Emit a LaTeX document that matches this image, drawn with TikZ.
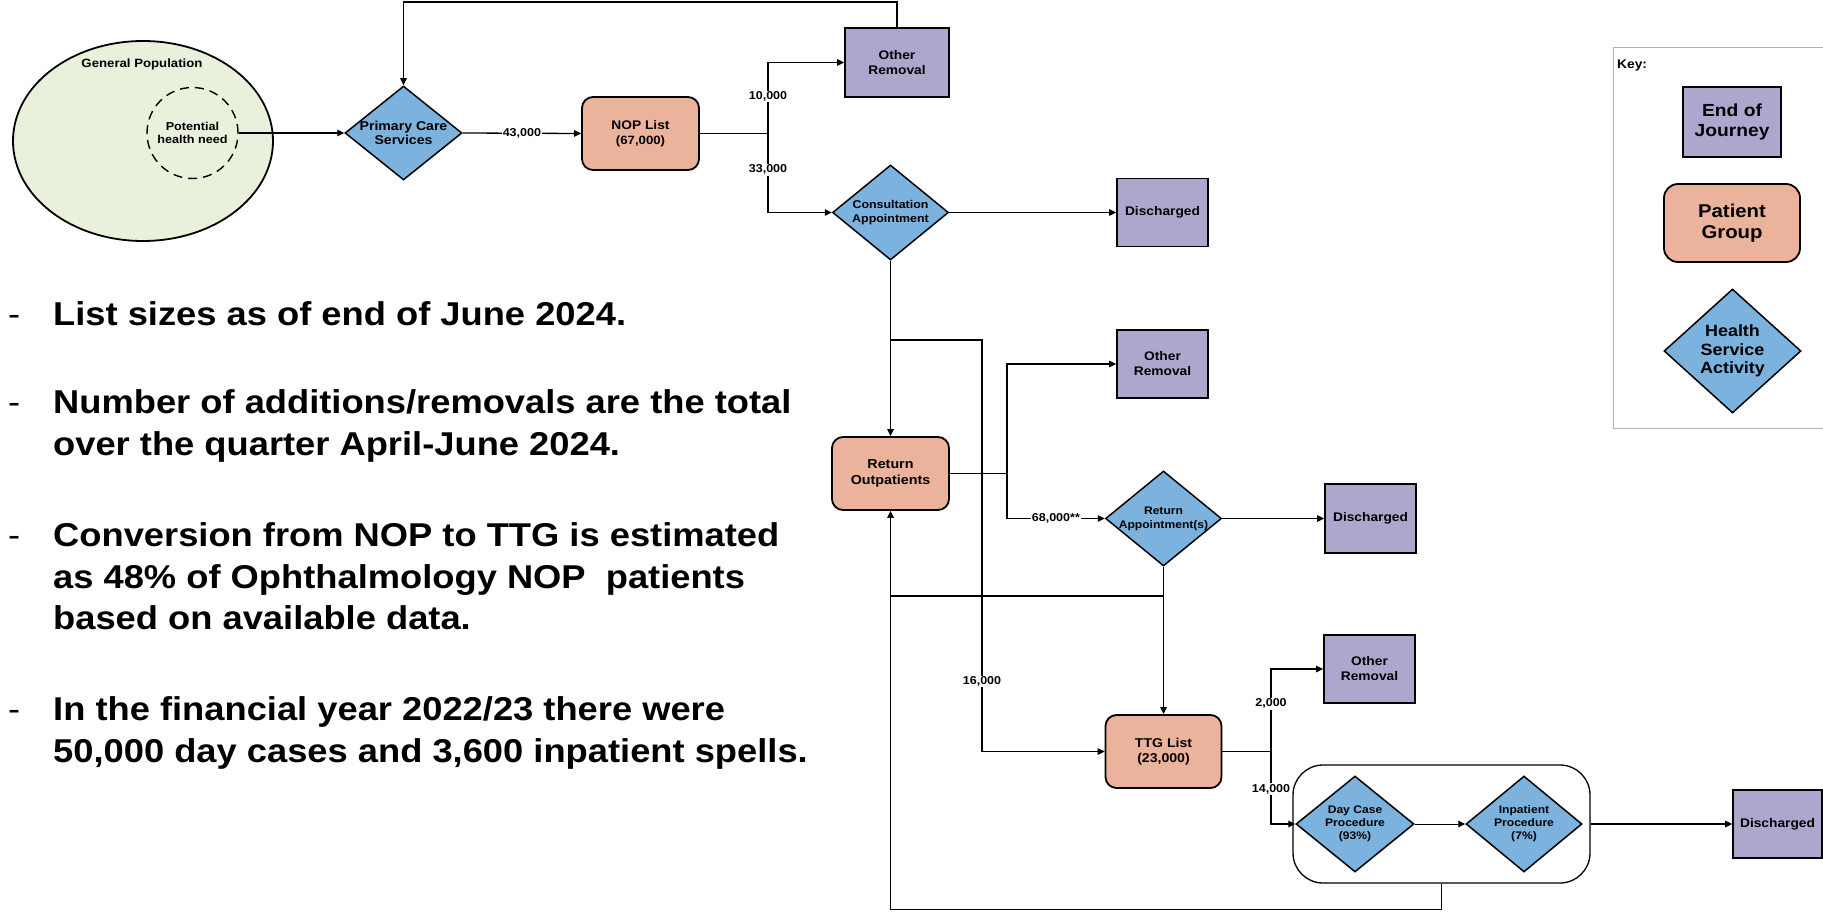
\documentclass[tikz,border=0pt]{standalone}
\usepackage{fontspec}
\setmainfont{Liberation Sans}[FakeStretch=1.1]
\usetikzlibrary{shapes.geometric,arrows.meta}
\definecolor{endc}{RGB}{173,167,206}
\definecolor{patc}{RGB}{235,178,156}
\definecolor{hsac}{RGB}{124,178,222}
\definecolor{popc}{RGB}{233,240,220}
\newcommand\mynodefont{\bfseries\fontsize{12.5pt}{15pt}\selectfont}
\newcommand\mydfont{\bfseries\fontsize{11.3pt}{13.5pt}\selectfont}
\newcommand\mylblfont{\bfseries\fontsize{11.4pt}{13pt}\selectfont}
\newcommand\mybodyfont{\bfseries\fontsize{33pt}{41.5pt}\selectfont}
\tikzset{
  ebox/.style={draw=black, line width=1.8pt, fill=endc, inner sep=0pt, align=center, font=\mynodefont},
  pbox/.style={draw=black, line width=1.8pt, fill=patc, rounded corners=11pt, inner sep=0pt, align=center, font=\mynodefont},
  dshape/.style={diamond, draw=black, line width=1.5pt, fill=hsac, inner sep=0pt},
  dtext/.style={inner sep=0pt, align=center, font=\mydfont},
  conn/.style={draw=black, line width=1.3pt},
  arr/.style={conn, -{Triangle[length=7pt,width=6.5pt]}},
  lbl/.style={fill=white, inner sep=1pt, font=\mylblfont},
  body/.style={inner sep=0pt, anchor=base west, font=\mybodyfont},
  dashmark/.style={inner sep=0pt, anchor=base west, font=\mdseries\fontsize{33pt}{41.5pt}\selectfont},
}
\begin{document}
\begin{tikzpicture}[x=1pt,y=-1pt]
\useasboundingbox (0,0) rectangle (1823,912);
\fill[white] (0,0) rectangle (1823,912);

% ---------- population ----------
\node[ellipse, draw=black, line width=1.8pt, fill=popc, minimum width=260pt, minimum height=200pt, inner sep=0pt] (pop) at (143,141) {};
\node[inner sep=0pt, font=\bfseries\fontsize{12pt}{14pt}\selectfont] (poplbl) at (142,64) {General Population};
\node[circle, draw=black, dash pattern=on 9pt off 6pt, line width=1.4pt, minimum size=91pt, inner sep=0pt, align=center, font=\bfseries\fontsize{11.5pt}{12.5pt}\selectfont] (need) at (192.5,133) {Potential\\health need};

% ---------- main nodes ----------
\node[dshape, minimum width=117pt, minimum height=94pt] (pcs) at (403.5,133) {};
\node[dtext, font=\bfseries\fontsize{12.8pt}{14pt}\selectfont] (pcsT) at (pcs) {Primary Care\\Services};

\node[pbox, minimum width=117pt, minimum height=73pt] (nop) at (640.5,133.5) {NOP List\\{\fontsize{12pt}{14pt}\selectfont(67,000)}};

\node[ebox, minimum width=104pt, minimum height=69pt] (or1) at (897,62.5) {Other\\Removal};

\node[dshape, minimum width=116pt, minimum height=95pt] (cons) at (890.5,212.5) {};
\node[dtext] (consT) at (cons) {Consultation\\Appointment};

\node[ebox, minimum width=91pt, minimum height=68pt] (dis1) at (1162.5,212.5) {Discharged};

\node[pbox, minimum width=117pt, minimum height=73pt, font=\bfseries\fontsize{13pt}{15.5pt}\selectfont] (ro) at (890.5,473.5) {Return\\Outpatients};

\node[ebox, minimum width=91pt, minimum height=68pt] (or2) at (1162.5,364) {Other\\Removal};

\node[dshape, minimum width=116pt, minimum height=95pt] (ra) at (1163.5,518.5) {};
\node[dtext, font=\bfseries\fontsize{11pt}{14pt}\selectfont] (raT) at (ra) {Return\\Appointment(s)};

\node[ebox, minimum width=91pt, minimum height=69pt] (dis2) at (1370.5,518.5) {Discharged};

\node[pbox, minimum width=116pt, minimum height=73pt, font=\bfseries\fontsize{12.8pt}{15pt}\selectfont] (ttg) at (1163.5,751.5) {TTG List\\(23,000)};

\node[ebox, minimum width=91pt, minimum height=68pt] (or3) at (1369.5,669) {Other\\Removal};

\node[draw=black, line width=1.3pt, rounded corners=30pt, minimum width=297pt, minimum height=118pt, inner sep=0pt] (grp) at (1441.5,824) {};
\node[dshape, minimum width=118pt, minimum height=96pt] (dc) at (1355,824) {};
\node[dtext, font=\bfseries\fontsize{11pt}{13pt}\selectfont] (dcT) at (dc) {Day Case\\Procedure\\(93\%)};
\node[dshape, minimum width=116pt, minimum height=96pt] (ip) at (1524,824) {};
\node[dtext, font=\bfseries\fontsize{11pt}{13pt}\selectfont] (ipT) at (ip) {Inpatient\\Procedure\\(7\%)};

\node[ebox, minimum width=89pt, minimum height=68pt] (dis3) at (1777.5,824) {Discharged};

% ---------- junction coordinates ----------
\coordinate (j1) at (768,133.5);
\coordinate (j2) at (890.5,340);
\coordinate (j3) at (982,340);
\coordinate (j4) at (1007,473.5);
\coordinate (j5) at (1163.5,596);
\coordinate (j6) at (890.5,596);
\coordinate (j7) at (1271,751.5);

% ---------- connectors ----------
\draw[arr] (or1.north) -- ++(0,-25) -| (pcs.north);
\draw[arr] (need.east) -- (pcs.west);
\draw[arr] (pcs.east) -- node[lbl]{43,000} (nop.west);
\draw[conn] (nop.east) -- (j1);
\draw[arr] (j1) |- node[lbl, pos=0.26]{10,000} (or1.west);
\draw[arr] (j1) |- node[lbl, pos=0.23]{33,000} (cons.west);
\draw[arr] (cons.east) -- (dis1.west);
\draw[arr] (cons.south) -- (ro.north);
\draw[arr] (j2) -- (j3) |- node[lbl, pos=0.415]{16,000} (ttg.west);
\draw[conn] (ro.east) -- (j4);
\draw[arr] (j4) |- (or2.west);
\draw[arr] (j4) |- node[lbl, pos=0.75]{68,000**} (ra.west);
\draw[arr] (ra.east) -- (dis2.west);
\draw[arr] (ra.south) -- (ttg.north);
\draw[conn] (j5) -- (j6);
\draw[conn] (ttg.east) -- (j7);
\draw[arr] (j7) |- node[lbl, pos=0.29]{2,000} (or3.west);
\draw[arr] (j7) |- node[lbl, pos=0.26]{14,000} (dc.west);
\draw[arr, line width=0.9pt] (dc.east) -- (ip.west);
\draw[arr] (grp.east) -- (dis3.west);
\draw[arr] (grp.south) -- ++(0,26) -| (ro.south);
\fill (982,473.5) circle (1.8pt);
\fill (982,596) circle (1.8pt);

% ---------- key ----------
\node[draw=gray!60, line width=1pt, minimum width=222pt, minimum height=381pt, inner sep=0pt, anchor=north west] (key) at (1613,47) {};
\node[inner sep=0pt, anchor=base west, font=\bfseries\fontsize{12.5pt}{14pt}\selectfont] (keyT) at (1617,69) {Key:};
\node[ebox, minimum width=98pt, minimum height=70pt, font=\bfseries\fontsize{17.5pt}{20.5pt}\selectfont] (kend) at (1732,122) {End of\\Journey};
\node[pbox, rounded corners=14pt, minimum width=136pt, minimum height=78pt, font=\bfseries\fontsize{18.5pt}{21pt}\selectfont] (kpat) at (1732,223) {Patient\\Group};
\node[dshape, minimum width=137pt, minimum height=124pt] (khsa) at (1732.5,351) {};
\node[dtext, font=\bfseries\fontsize{16.3pt}{18.5pt}\selectfont] (khsaT) at (khsa) {Health\\Service\\Activity};

% ---------- notes ----------
\node[dashmark] (d1) at (8,325) {-};
\node[body] (t1) at (53,325) {List sizes as of end of June 2024.};
\node[dashmark] (d2) at (8,413) {-};
\node[body] (t2) at (53,413) {Number of additions/removals are the total};
\node[body] (t3) at (53,455) {over the quarter April-June 2024.};
\node[dashmark] (d3) at (8,546) {-};
\node[body] (t4) at (53,546) {Conversion from NOP to TTG is estimated};
\node[body] (t5) at (53,588) {as 48\% of Ophthalmology NOP\ \ patients};
\node[body] (t6) at (53,629) {based on available data.};
\node[dashmark] (d4) at (8,720) {-};
\node[body] (t7) at (53,720) {In the financial year 2022/23 there were};
\node[body] (t8) at (53,762) {50,000 day cases and 3,600 inpatient spells.};
\end{tikzpicture}
\end{document}
